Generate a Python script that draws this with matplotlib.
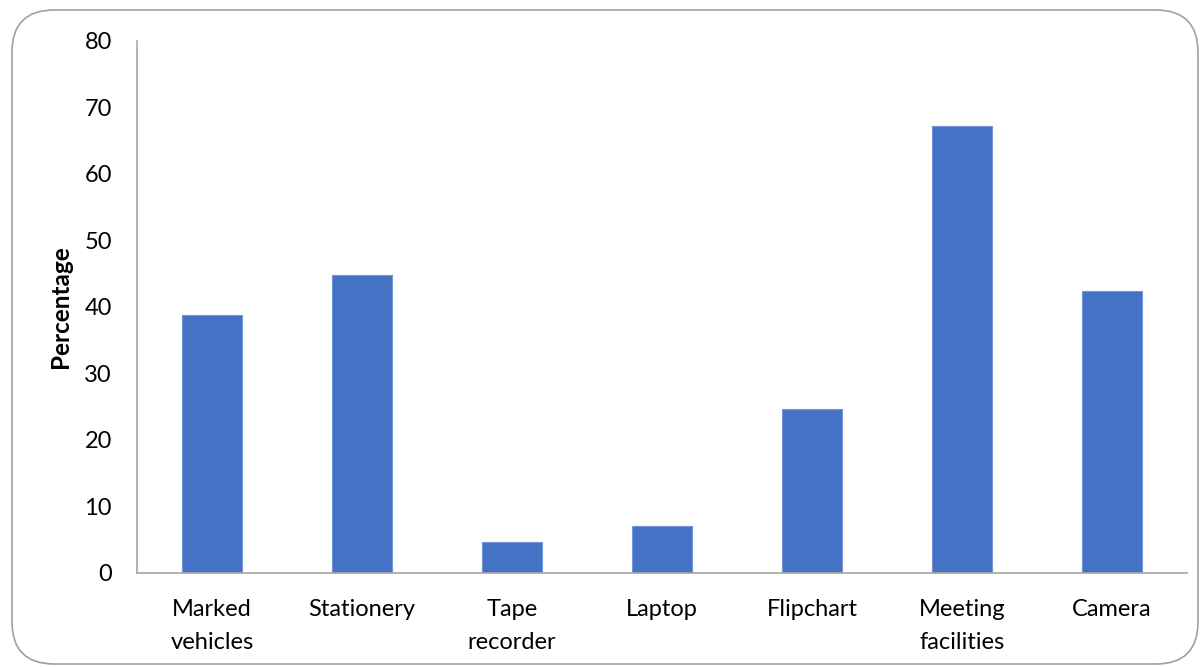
import matplotlib
matplotlib.use("Agg")
import matplotlib.pyplot as plt
from matplotlib.patches import FancyBboxPatch

categories = ["Marked\nvehicles", "Stationery", "Tape\nrecorder", "Laptop",
              "Flipchart", "Meeting\nfacilities", "Camera"]
percentages = [38.8, 44.7, 4.6, 7.0, 24.6, 67.1, 42.4]
y_ticks = [0, 10, 20, 30, 40, 50, 60, 70, 80]

plt.rcParams['font.family'] = ['Lato', 'DejaVu Sans']

W, H = 1204, 667
fig = plt.figure(figsize=(W / 100, H / 100), dpi=100)

# rounded chart-area border
frame = FancyBboxPatch((12 / W, 3 / H), 1186 / W, 654 / H,
                       boxstyle="round,pad=0,rounding_size=0.035",
                       transform=fig.transFigure, facecolor="none",
                       edgecolor="#a0a0a0", linewidth=1.2, zorder=-1,
                       mutation_aspect=W / H)
fig.patches.append(frame)

ax = fig.add_axes([137 / W, 1 - 572.7 / H, 1050 / W, 532 / H])
ax.patch.set_alpha(0)

x = list(range(len(categories)))
ax.bar(x, percentages, width=0.4, color="#4472c4", edgecolor="#6f95d8",
       linewidth=0.8, zorder=2)

ax.set_xlim(-0.5, len(categories) - 0.5)
ax.set_ylim(0, 80)
ax.set_yticks(y_ticks)
ax.set_xticks(x)
ax.set_xticklabels(categories, fontsize=17, linespacing=1.7)
ax.tick_params(axis='y', labelsize=17, length=0, pad=18)
ax.tick_params(axis='x', length=0, pad=19)

for s in ("top", "right"):
    ax.spines[s].set_visible(False)
for s in ("left", "bottom"):
    ax.spines[s].set_color("#a6a6a6")
    ax.spines[s].set_linewidth(1.2)

ax.set_ylabel("Percentage", fontsize=17.5, fontweight="bold", labelpad=9)

fig.savefig("out.png", dpi=100)
